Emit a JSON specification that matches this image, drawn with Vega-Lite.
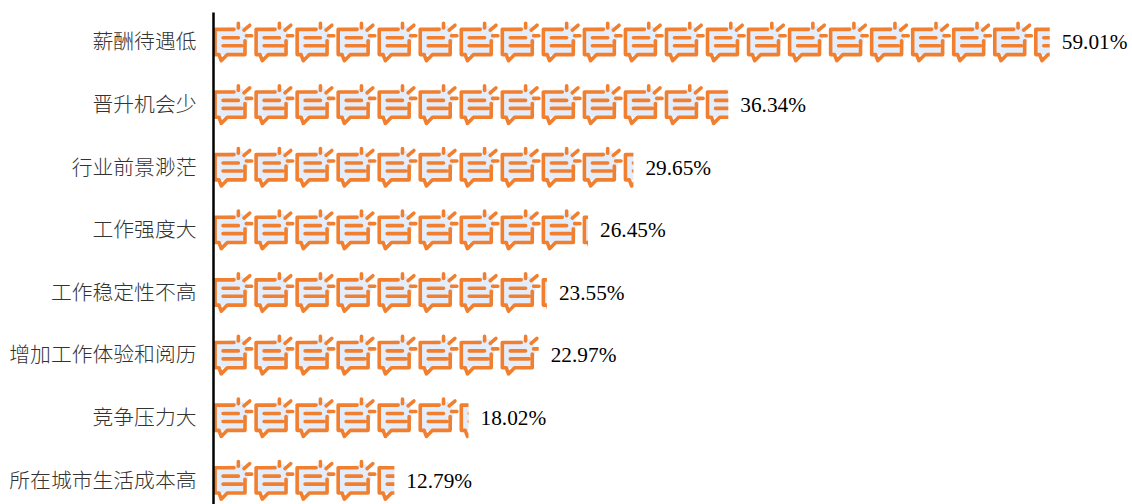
{"$schema":"https://vega.github.io/schema/vega-lite/v6.json","width":900,"height":491,"autosize":{"type":"none"},"padding":{"left":213,"top":12,"right":19,"bottom":1},"background":"white","datasets":{"bars":[{"c":"薪酬待遇低","v":59.01,"end":63.47,"t":"59.01%"},{"c":"晋升机会少","v":36.34,"end":63.47,"t":"36.34%"},{"c":"行业前景渺茫","v":29.65,"end":63.47,"t":"29.65%"},{"c":"工作强度大","v":26.45,"end":63.47,"t":"26.45%"},{"c":"工作稳定性不高","v":23.55,"end":63.47,"t":"23.55%"},{"c":"增加工作体验和阅历","v":22.97,"end":63.47,"t":"22.97%"},{"c":"竞争压力大","v":18.02,"end":63.47,"t":"18.02%"},{"c":"所在城市生活成本高","v":12.79,"end":63.47,"t":"12.79%"}],"icons":[{"c":"薪酬待遇低","x":1.447},{"c":"薪酬待遇低","x":4.341},{"c":"薪酬待遇低","x":7.235},{"c":"薪酬待遇低","x":10.129},{"c":"薪酬待遇低","x":13.023},{"c":"薪酬待遇低","x":15.917},{"c":"薪酬待遇低","x":18.811},{"c":"薪酬待遇低","x":21.705},{"c":"薪酬待遇低","x":24.599},{"c":"薪酬待遇低","x":27.493},{"c":"薪酬待遇低","x":30.387},{"c":"薪酬待遇低","x":33.281},{"c":"薪酬待遇低","x":36.175},{"c":"薪酬待遇低","x":39.069},{"c":"薪酬待遇低","x":41.963},{"c":"薪酬待遇低","x":44.857},{"c":"薪酬待遇低","x":47.751},{"c":"薪酬待遇低","x":50.645},{"c":"薪酬待遇低","x":53.539},{"c":"薪酬待遇低","x":56.433},{"c":"薪酬待遇低","x":59.327},{"c":"晋升机会少","x":1.447},{"c":"晋升机会少","x":4.341},{"c":"晋升机会少","x":7.235},{"c":"晋升机会少","x":10.129},{"c":"晋升机会少","x":13.023},{"c":"晋升机会少","x":15.917},{"c":"晋升机会少","x":18.811},{"c":"晋升机会少","x":21.705},{"c":"晋升机会少","x":24.599},{"c":"晋升机会少","x":27.493},{"c":"晋升机会少","x":30.387},{"c":"晋升机会少","x":33.281},{"c":"晋升机会少","x":36.175},{"c":"行业前景渺茫","x":1.447},{"c":"行业前景渺茫","x":4.341},{"c":"行业前景渺茫","x":7.235},{"c":"行业前景渺茫","x":10.129},{"c":"行业前景渺茫","x":13.023},{"c":"行业前景渺茫","x":15.917},{"c":"行业前景渺茫","x":18.811},{"c":"行业前景渺茫","x":21.705},{"c":"行业前景渺茫","x":24.599},{"c":"行业前景渺茫","x":27.493},{"c":"行业前景渺茫","x":30.387},{"c":"工作强度大","x":1.447},{"c":"工作强度大","x":4.341},{"c":"工作强度大","x":7.235},{"c":"工作强度大","x":10.129},{"c":"工作强度大","x":13.023},{"c":"工作强度大","x":15.917},{"c":"工作强度大","x":18.811},{"c":"工作强度大","x":21.705},{"c":"工作强度大","x":24.599},{"c":"工作强度大","x":27.493},{"c":"工作稳定性不高","x":1.447},{"c":"工作稳定性不高","x":4.341},{"c":"工作稳定性不高","x":7.235},{"c":"工作稳定性不高","x":10.129},{"c":"工作稳定性不高","x":13.023},{"c":"工作稳定性不高","x":15.917},{"c":"工作稳定性不高","x":18.811},{"c":"工作稳定性不高","x":21.705},{"c":"工作稳定性不高","x":24.599},{"c":"增加工作体验和阅历","x":1.447},{"c":"增加工作体验和阅历","x":4.341},{"c":"增加工作体验和阅历","x":7.235},{"c":"增加工作体验和阅历","x":10.129},{"c":"增加工作体验和阅历","x":13.023},{"c":"增加工作体验和阅历","x":15.917},{"c":"增加工作体验和阅历","x":18.811},{"c":"增加工作体验和阅历","x":21.705},{"c":"竞争压力大","x":1.447},{"c":"竞争压力大","x":4.341},{"c":"竞争压力大","x":7.235},{"c":"竞争压力大","x":10.129},{"c":"竞争压力大","x":13.023},{"c":"竞争压力大","x":15.917},{"c":"竞争压力大","x":18.811},{"c":"所在城市生活成本高","x":1.447},{"c":"所在城市生活成本高","x":4.341},{"c":"所在城市生活成本高","x":7.235},{"c":"所在城市生活成本高","x":10.129},{"c":"所在城市生活成本高","x":13.023}]},"encoding":{"y":{"field":"c","type":"nominal","sort":null,"scale":{"domain":["薪酬待遇低","晋升机会少","行业前景渺茫","工作强度大","工作稳定性不高","增加工作体验和阅历","竞争压力大","所在城市生活成本高"],"range":[0,501],"paddingInner":0,"paddingOuter":0},"axis":{"title":null,"zindex":1,"domain":true,"domainColor":"#000000","domainWidth":2.5,"ticks":false,"labelPadding":17,"labelFont":"Noto Sans CJK SC","labelFontSize":20.8,"labelColor":"#333333","labelFontWeight":300,"labelLimit":220}}},"layer":[{"data":{"name":"icons"},"mark":{"type":"point","filled":true,"fill":"#e4edfb","stroke":null,"opacity":1,"size":1681,"shape":"M-0.92,-0.7L0.45,-0.85L0.75,-0.35L0.56,0.57L-0.92,0.57Z"},"encoding":{"x":{"field":"x","type":"quantitative","scale":{"domain":[0,63.47],"nice":false,"zero":true},"axis":null}}},{"data":{"name":"icons"},"mark":{"type":"point","filled":false,"fill":null,"stroke":"#f08030","strokeWidth":3.6,"strokeCap":"round","strokeJoin":"round","opacity":1,"size":1681,"shape":"M0.024,-0.68L-0.9,-0.68L-0.9,0.55L-0.71,0.55L-0.6,0.85L-0.3,0.55L0.56,0.55L0.56,-0.12M0.236,-0.98L0.236,-0.75M0.51,-0.64L0.79,-0.88M0.626,-0.367L0.886,-0.367M-0.51,-0.27L0.236,-0.27M-0.51,0.12L0.4,0.12"},"encoding":{"x":{"field":"x","type":"quantitative","axis":null}}},{"data":{"name":"bars"},"mark":{"type":"bar","color":"#ffffff"},"encoding":{"x":{"field":"v","type":"quantitative","axis":null},"x2":{"field":"end"}}},{"data":{"name":"bars"},"mark":{"type":"text","align":"left","baseline":"middle","dx":12,"font":"Liberation Serif","fontSize":21.3,"color":"#000000"},"encoding":{"x":{"field":"v","type":"quantitative","axis":null},"text":{"field":"t"}}}],"config":{"view":{"stroke":null}}}
